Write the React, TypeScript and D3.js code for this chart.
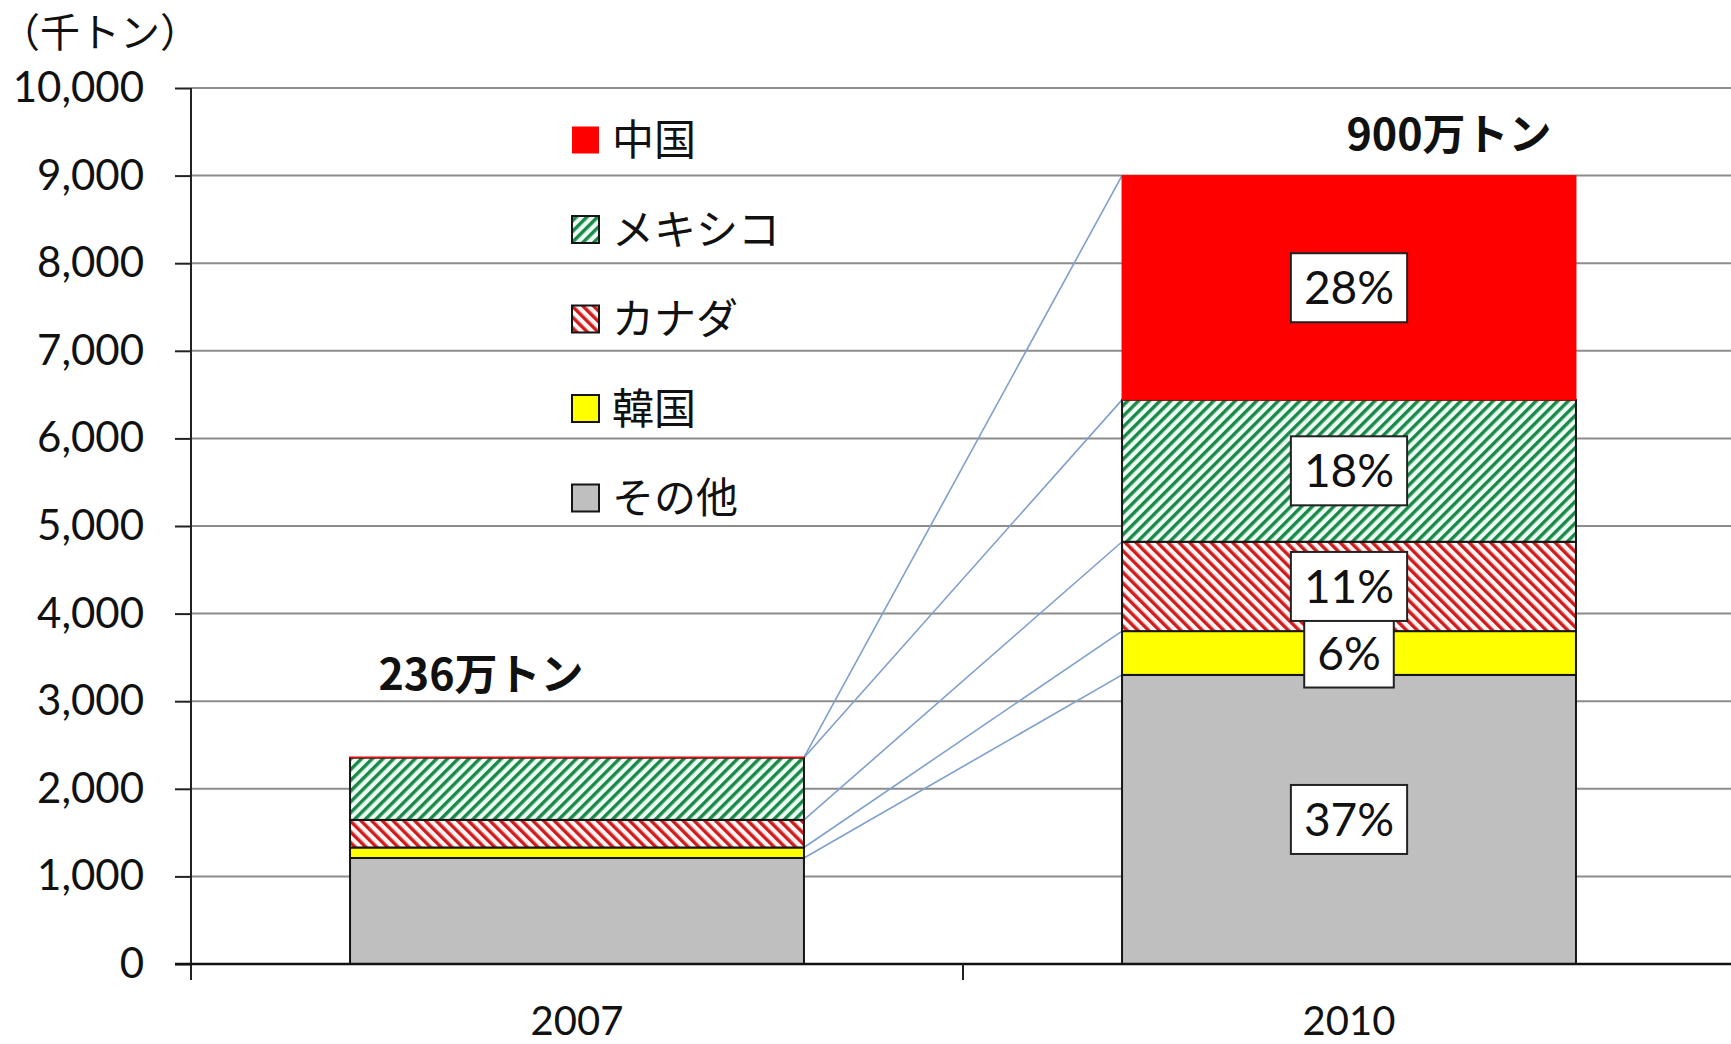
import { useEffect, useRef } from 'react'
import { select, scaleBand, scaleLinear, stack, axisLeft, format } from 'd3'

// tonnes (thousand)
const years = ['2007', '2010']
const other = [1210, 3300]
const korea = [120, 500]
const canada = [315, 1020]
const mexico = [710, 1620]
const china = [5, 2560]
// stack order, bottom to top
const seriesKeys = ['その他', '韓国', 'カナダ', 'メキシコ', '中国']
const seriesValues = [other, korea, canada, mexico, china]
// share labels shown on the 2010 bar, same order as seriesKeys
const shares2010 = ['37%', '6%', '11%', '18%', '28%']
const legendOrder = ['中国', 'メキシコ', 'カナダ', '韓国', 'その他']
const yTicks = [0, 1000, 2000, 3000, 4000, 5000, 6000, 7000, 8000, 9000, 10000]
const unitLabel = '（千トン）'

const fills = {
  '中国': '#ff0000',
  'メキシコ': 'url(#hatch-mx)',
  'カナダ': 'url(#hatch-ca)',
  '韓国': '#ffff00',
  'その他': '#bfbfbf'
}

const NUM_FONT = "Lato, 'Noto Sans CJK JP', sans-serif"
const JP_FONT = "'Noto Sans CJK JP', sans-serif"

function App() {
  const svg_ref = useRef(null)
  const width = 1731,
        height = 1044
  const plot = {left: 191, right: 1735, top: 88, bottom: 964}

  useEffect(() => {
    const svg = select(svg_ref.current)
    svg.selectAll('*').remove()

    const rows = years.map((year, i) => {
      const row = {year}
      seriesKeys.forEach((k, j) => { row[k] = seriesValues[j][i] })
      return row
    })
    const layers = stack().keys(seriesKeys)(rows)
    const totals = rows.map(r => seriesKeys.reduce((s, k) => s + r[k], 0))

    const x = scaleBand().domain(years).range([plot.left, plot.right])
    const barW = x.bandwidth() * 0.588
    const barLeft = yr => x(yr) + (x.bandwidth() - barW) / 2
    const y = scaleLinear([0, 10000], [plot.bottom, plot.top])

    // hatch patterns
    const defs = svg.append('defs')
    const hatch = (id, angle, bg, fg) => {
      const p = defs.append('pattern')
        .attr('id', id)
        .attr('patternUnits', 'userSpaceOnUse')
        .attr('width', 7.6).attr('height', 7.6)
        .attr('patternTransform', `rotate(${angle})`)
      p.append('rect').attr('width', 7.6).attr('height', 7.6).attr('fill', bg)
      p.append('rect').attr('width', 3.4).attr('height', 7.6).attr('fill', fg)
    }
    hatch('hatch-mx', 45, '#eefbf2', '#19894a')
    hatch('hatch-ca', -45, '#fff4f4', '#d01c1c')

    // gridlines
    svg.append('g')
      .selectAll('line')
      .data(yTicks.filter(t => t > 0))
      .join('line')
      .attr('x1', plot.left).attr('x2', plot.right)
      .attr('y1', d => y(d)).attr('y2', d => y(d))
      .attr('stroke', '#8c8c8c')
      .attr('stroke-width', 2)

    // series lines between the bars
    const [y0, y1] = years
    svg.append('g')
      .selectAll('line')
      .data(layers)
      .join('line')
      .attr('x1', barLeft(y0) + barW)
      .attr('y1', d => y(d[0][1]))
      .attr('x2', barLeft(y1))
      .attr('y2', d => y(d[1][1]))
      .attr('stroke', '#7f9fcc')
      .attr('stroke-width', 1.6)

    // stacked bars
    svg.append('g')
      .selectAll('g')
      .data(layers)
      .join('g')
      .attr('fill', d => fills[d.key])
      .attr('stroke', d => d.key === '中国' ? '#ff0000' : '#151515')
      .attr('stroke-width', d => d.key === '中国' ? 1 : 2)
      .selectAll('rect')
      .data(d => d)
      .join('rect')
      .attr('x', d => barLeft(d.data.year))
      .attr('width', barW)
      .attr('y', d => y(d[1]))
      .attr('height', d => y(d[0]) - y(d[1]))

    // share labels on 2010
    const labels = svg.append('g')
    layers.forEach((layer, j) => {
      const seg = layer[1]
      const cx = barLeft(y1) + barW / 2,
            cy = (y(seg[0]) + y(seg[1])) / 2
      const g = labels.append('g')
      const box = g.append('rect')
        .attr('fill', '#fff')
        .attr('stroke', '#222')
        .attr('stroke-width', 2)
      const t = g.append('text')
        .attr('x', cx).attr('y', cy)
        .attr('dy', '0.36em')
        .attr('text-anchor', 'middle')
        .attr('font-family', NUM_FONT)
        .attr('font-size', 46)
        .attr('fill', '#111')
        .text(shares2010[j])
      const w = t.node().getComputedTextLength() + 26
      box.attr('x', cx - w / 2).attr('y', cy - 34.5).attr('width', w).attr('height', 69)
    })

    // y axis
    const yAxis = svg.append('g')
      .attr('transform', `translate(${plot.left},0)`)
      .call(axisLeft(y).tickValues(yTicks).tickSize(16).tickPadding(31).tickFormat(format(',')))
    yAxis.select('.domain').remove()
    yAxis.selectAll('line').attr('stroke', '#222').attr('stroke-width', 2)
    yAxis.selectAll('text')
      .attr('font-family', NUM_FONT)
      .attr('font-size', 42)
      .attr('fill', '#111')
    svg.append('line')
      .attr('x1', plot.left).attr('x2', plot.left)
      .attr('y1', plot.top).attr('y2', plot.bottom + 16)
      .attr('stroke', '#222').attr('stroke-width', 2)

    // x axis
    svg.append('line')
      .attr('x1', plot.left - 16).attr('x2', plot.right)
      .attr('y1', plot.bottom).attr('y2', plot.bottom)
      .attr('stroke', '#111').attr('stroke-width', 2.5)
    svg.append('g')
      .selectAll('line')
      .data(years.slice(1))
      .join('line')
      .attr('x1', d => x(d)).attr('x2', d => x(d))
      .attr('y1', plot.bottom).attr('y2', plot.bottom + 16)
      .attr('stroke', '#222').attr('stroke-width', 2)
    svg.append('g')
      .selectAll('text')
      .data(years)
      .join('text')
      .attr('x', d => x(d) + x.bandwidth() / 2)
      .attr('y', 1021)
      .attr('dy', '0.36em')
      .attr('text-anchor', 'middle')
      .attr('font-family', NUM_FONT)
      .attr('font-size', 40)
      .attr('fill', '#111')
      .text(d => d)

    // totals above the bars
    const totalOffsets = [{dx: -96, dy: -83}, {dx: 100, dy: -41}]
    svg.append('g')
      .selectAll('text')
      .data(years)
      .join('text')
      .attr('x', (d, i) => barLeft(d) + barW / 2 + totalOffsets[i].dx)
      .attr('y', (d, i) => y(totals[i]) + totalOffsets[i].dy)
      .attr('dy', '0.36em')
      .attr('text-anchor', 'middle')
      .attr('font-family', JP_FONT)
      .attr('font-weight', 'bold')
      .attr('font-size', 43)
      .attr('fill', '#111')
      .text((d, i) => `${Math.round(totals[i] / 10)}万トン`)

    // legend
    const legend = svg.append('g')
      .selectAll('g')
      .data(legendOrder)
      .join('g')
      .attr('transform', (d, i) => `translate(572, ${140 + i * 89.5})`)
    legend.append('rect')
      .attr('x', 0).attr('y', -13.5)
      .attr('width', 27).attr('height', 27)
      .attr('fill', d => fills[d])
      .attr('stroke', d => d === '中国' ? 'none' : '#151515')
      .attr('stroke-width', 2)
    legend.append('text')
      .attr('x', 40)
      .attr('dy', '0.36em')
      .attr('font-family', JP_FONT)
      .attr('font-size', 42)
      .attr('fill', '#111')
      .text(d => d)

    // unit
    svg.append('text')
      .attr('x', 0).attr('y', 33)
      .attr('dy', '0.36em')
      .attr('font-family', JP_FONT)
      .attr('font-size', 40)
      .attr('fill', '#111')
      .text(unitLabel)
  }, [])

  return (
    <svg ref={svg_ref}
      width={width}
      height={height}
      viewBox={`0 0 ${width} ${height}`}
      style={{position: 'absolute', left: 0, top: 0, display: 'block', background: '#fff'}}>
    </svg>
  )
}

export default App
